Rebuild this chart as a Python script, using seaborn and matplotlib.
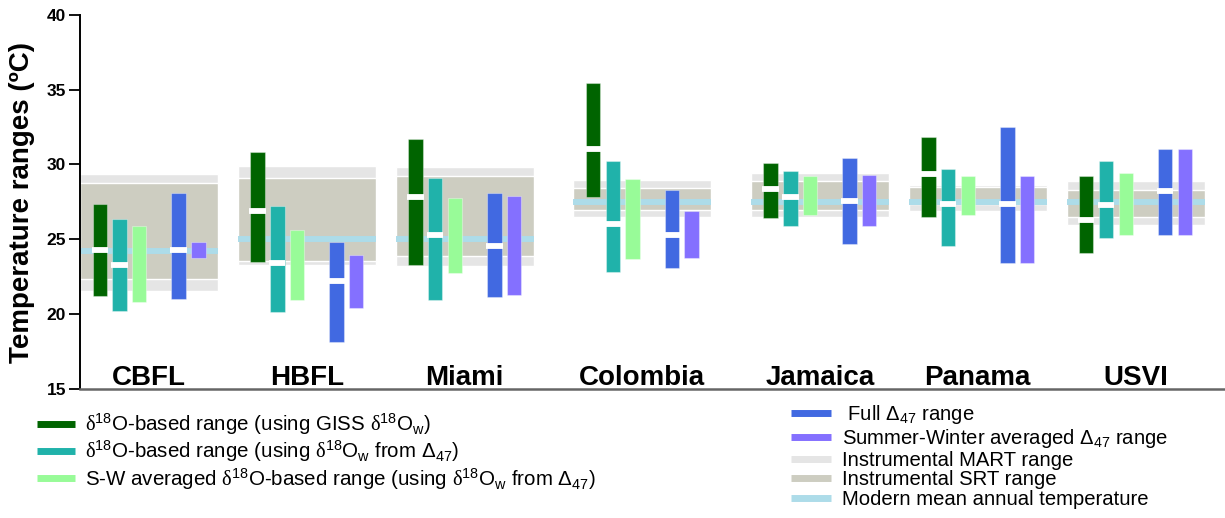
import numpy as np
import matplotlib
matplotlib.use("Agg")
import matplotlib.pyplot as plt
from matplotlib.lines import Line2D
import seaborn as sns

# -----------------------------
# Data (temperatures in degC)
# -----------------------------
sites = ["CBFL", "HBFL", "Miami", "Colombia", "Jamaica", "Panama", "USVI"]

giss_lo = [21.2, 23.5, 23.3, 27.8, 26.4, 26.5, 24.1]
giss_hi = [27.35, 30.8, 31.7, 35.45, 30.1, 31.8, 29.25]
giss_mid = [24.3, 26.85, 27.8, 31.05, 28.35, 29.35, 26.25]

d47w_lo = [20.2, 20.15, 20.9, 22.8, 25.9, 24.55, 25.05]
d47w_hi = [26.35, 27.2, 29.1, 30.2, 29.55, 29.7, 30.25]
d47w_mid = [23.3, 23.4, 25.3, 26.0, 27.8, 27.35, 27.25]

sw_lo = [20.8, 20.9, 22.75, 23.65, 26.6, 26.6, 25.25]
sw_hi = [25.9, 25.6, 27.75, 29.0, 29.2, 29.2, 29.4]

full_lo = [21.0, 18.1, 21.15, 23.05, 24.65, 23.4, 25.3]
full_hi = [28.1, 24.8, 28.05, 28.25, 30.4, 32.5, 31.05]
full_mid = [24.3, 22.2, 24.55, 25.3, 27.55, 27.35, 28.2]

swd47_lo = [23.75, 20.4, 21.25, 23.75, 25.85, 23.4, 25.3]
swd47_hi = [24.8, 23.95, 27.9, 26.9, 29.3, 29.25, 31.05]

mart_lo = [21.55, 23.25, 23.2, 26.45, 26.5, 26.9, 25.95]
mart_hi = [29.35, 29.9, 29.85, 28.95, 29.4, 28.6, 28.9]
srt_lo = [22.35, 23.55, 23.9, 26.95, 26.95, 27.35, 26.5]
srt_hi = [28.75, 29.1, 29.25, 28.4, 28.9, 28.5, 28.3]
mat = [24.2, 25.0, 25.0, 27.5, 27.5, 27.5, 27.5]

# -----------------------------
# Layout / style
# -----------------------------
group_start = np.array([0, 8, 16, 25, 34, 42, 50])
band_width = 7
bar_w = 0.73

c_giss = "#006400"
c_d47w = "#20B2AA"
c_sw = "#98FB98"
c_full = "#4169E1"
c_swd47 = "#8470FF"
c_mart = "#E5E5E5"
c_srt = "#CDCDC1"
c_mat = "#ADDCE9"

sns.set_theme(style="ticks")
plt.rcParams["font.family"] = ["Liberation Sans", "DejaVu Sans"]
plt.rcParams["mathtext.fontset"] = "custom"
plt.rcParams["mathtext.rm"] = "Liberation Sans"
plt.rcParams["mathtext.sf"] = "Liberation Serif"
plt.rcParams["mathtext.default"] = "regular"
for key in ["text.color", "axes.labelcolor", "xtick.color", "ytick.color",
            "xtick.labelcolor", "ytick.labelcolor"]:
    plt.rcParams[key] = "black"

fig = plt.figure(figsize=(12.25, 5.18), dpi=100)
ax = fig.add_axes([0.0653, 0.2496, 0.9347, 0.722])

# background bands
ax.bar(group_start, np.subtract(mart_hi, mart_lo), bottom=mart_lo, width=band_width,
       align="edge", color=c_mart, zorder=1)
ax.bar(group_start, np.subtract(srt_hi, srt_lo), bottom=srt_lo, width=band_width,
       align="edge", color=c_srt, zorder=1.5)
ax.hlines(mat, group_start, group_start + band_width, color=c_mat, lw=4.3, zorder=2)

# range bars
series = [
    (1, giss_lo, giss_hi, giss_mid, c_giss),
    (2, d47w_lo, d47w_hi, d47w_mid, c_d47w),
    (3, sw_lo, sw_hi, None, c_sw),
    (5, full_lo, full_hi, full_mid, c_full),
    (6, swd47_lo, swd47_hi, None, c_swd47),
]
for slot, lo, hi, mid, col in series:
    x = group_start + slot
    ax.bar(x, np.subtract(hi, lo), bottom=lo, width=bar_w, color=col,
           edgecolor=(1, 1, 1, 0.35), linewidth=0.8, zorder=3)
    if mid is not None:
        ax.hlines(mid, x - bar_w / 2 - 0.05, x + bar_w / 2 + 0.05,
                  color="white", lw=4.2, zorder=4)

# site labels
for s, g in zip(sites, group_start):
    ax.text(g + band_width / 2, 15.25, s, ha="center", va="baseline",
            fontsize=20, fontweight="bold", zorder=5)

ax.set_xlim(0, 58.03)
ax.set_ylim(15, 40)
ax.set_yticks([15, 20, 25, 30, 35, 40])
ax.set_xticks([])
ax.tick_params(axis="y", length=8, width=1.3, pad=2, labelsize=12.5, color="black")
for lab in ax.get_yticklabels():
    lab.set_fontweight("bold")
sns.despine(ax=ax, top=True, right=True)
ax.spines["left"].set_color("black")
ax.spines["left"].set_linewidth(1.4)
ax.spines["bottom"].set_color("#666666")
ax.spines["bottom"].set_linewidth(1.8)
ax.set_facecolor("white")
ax.grid(False)

fig.text(0.0176, 0.61, "Temperature ranges (ºC)", rotation=90, ha="center",
         va="center", fontsize=20, fontweight="bold")

# legends
d18 = r"$\mathsf{δ}^{18}$"
left_labels = [
    d18 + "O-based range (using GISS " + d18 + "O$_w$)",
    d18 + "O-based range (using " + d18 + "O$_w$ from Δ$_{47}$)",
    "S-W averaged " + d18 + "O-based range (using " + d18 + "O$_w$ from Δ$_{47}$)",
]
left_handles = [Line2D([], [], color=c, lw=5, solid_capstyle="butt")
                for c in [c_giss, c_d47w, c_sw]]
right_labels = [
    " Full Δ$_{47}$ range",
    "Summer-Winter averaged Δ$_{47}$ range",
    "Instrumental MART range",
    "Instrumental SRT range",
    "Modern mean annual temperature",
]
right_handles = [Line2D([], [], color=c, lw=5, solid_capstyle="butt")
                 for c in [c_full, c_swd47, c_mart, c_srt, c_mat]]

leg1 = fig.legend(left_handles, left_labels, loc="upper left",
                  bbox_to_anchor=(37 / 1225, 1 - 411 / 518), frameon=False,
                  fontsize=14.8, handlelength=1.85, handletextpad=0.48,
                  borderpad=0, borderaxespad=0, labelspacing=0.07)
leg2 = fig.legend(right_handles, right_labels, loc="upper left",
                  bbox_to_anchor=(791 / 1225, 1 - 403 / 518), frameon=False,
                  fontsize=14.6, handlelength=1.97, handletextpad=0.53,
                  borderpad=0, borderaxespad=0, labelspacing=0.04)

fig.savefig("out.png", dpi=100, facecolor="white")
